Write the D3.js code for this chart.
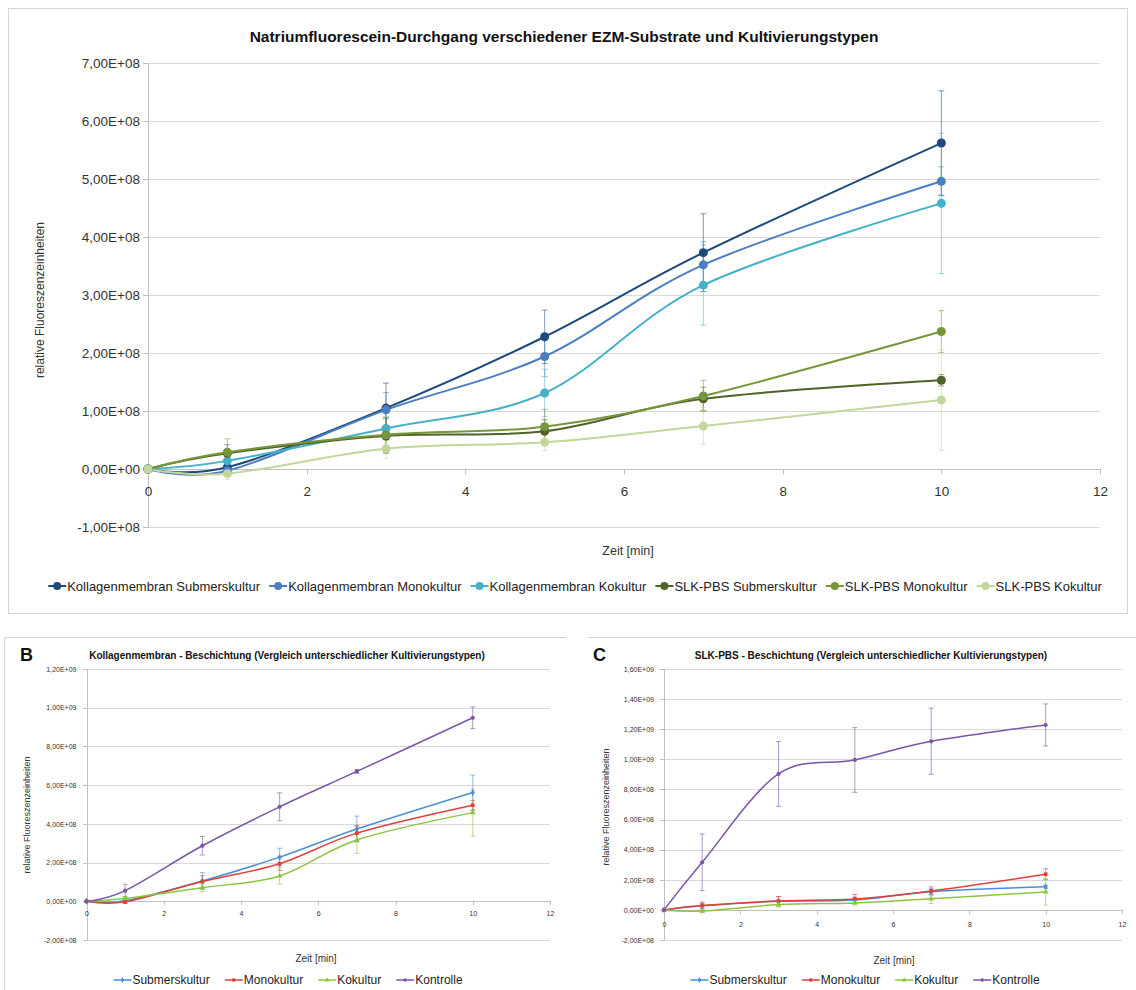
<!DOCTYPE html>
<html>
<head>
<meta charset="utf-8">
<script src="https://cdn.jsdelivr.net/npm/d3@7"></script>
<style>
  body { margin: 0; background: #fff; }
  svg { display: block; }
  text { font-family: "Liberation Sans", Arial, sans-serif; }
</style>
</head>
<body>
<svg id="chart" width="1136" height="990"></svg>
<script>
// ---- Messzeitpunkte [min] ----
const zeit = [0, 1, 3, 5, 7, 10];

// ---- Kollagenmembran: Mittelwerte und Standardabweichungen ----
const kollSubmers    = [0, 0.03e8, 1.05e8, 2.28e8, 3.73e8, 5.62e8];
const kollSubmersErr = [0, 0.10e8, 0.43e8, 0.46e8, 0.67e8, 0.90e8];
const kollMono       = [0, -0.03e8, 1.02e8, 1.94e8, 3.52e8, 4.96e8];
const kollMonoErr    = [0, 0.08e8, 0.30e8, 0.35e8, 0.40e8, 0.25e8];
const kollKoku       = [0, 0.14e8, 0.70e8, 1.31e8, 3.17e8, 4.58e8];
const kollKokuErr    = [0, 0.10e8, 0.20e8, 0.41e8, 0.69e8, 1.21e8];

// ---- SLK-PBS: Mittelwerte und Standardabweichungen ----
const slkSubmers     = [0, 0.27e8, 0.57e8, 0.65e8, 1.21e8, 1.53e8];
const slkSubmersErr  = [0, 0.15e8, 0.30e8, 0.20e8, 0.20e8, 0.10e8];
const slkMono        = [0, 0.29e8, 0.59e8, 0.73e8, 1.26e8, 2.37e8];
const slkMonoErr     = [0, 0.23e8, 0.30e8, 0.30e8, 0.27e8, 0.36e8];
const slkKoku        = [0, -0.08e8, 0.35e8, 0.46e8, 0.74e8, 1.19e8];
const slkKokuErr     = [0, 0.10e8, 0.17e8, 0.14e8, 0.32e8, 0.87e8];

// ---- Kontrollen (ohne Beschichtung) ----
const kontrolleKoll    = [0, 0.55e8, 2.87e8, 4.88e8, 6.71e8, 9.48e8];
const kontrolleKollErr = [0, 0.33e8, 0.48e8, 0.72e8, 0.10e8, 0.56e8];
const kontrolleSlk     = [0, 3.16e8, 9.03e8, 9.96e8, 11.2e8, 12.28e8];
const kontrolleSlkErr  = [0, 1.88e8, 2.15e8, 2.15e8, 2.20e8, 1.40e8];

// ---- Achsenteilungen ----
const xTicks    = [0, 2, 4, 6, 8, 10, 12];
const yTicksA   = [-1e8, 0, 1e8, 2e8, 3e8, 4e8, 5e8, 6e8, 7e8];
const yTicksB   = [-2e8, 0, 2e8, 4e8, 6e8, 8e8, 1e9, 1.2e9];
const yTicksC   = [-2e8, 0, 2e8, 4e8, 6e8, 8e8, 1e9, 1.2e9, 1.4e9, 1.6e9];

// ---- Beschriftungen ----
const titelA = "Natriumfluorescein-Durchgang verschiedener EZM-Substrate und Kultivierungstypen";
const titelB = "Kollagenmembran  - Beschichtung (Vergleich unterschiedlicher Kultivierungstypen)";
const titelC = "SLK-PBS  - Beschichtung (Vergleich unterschiedlicher Kultivierungstypen)";
const yTitel = "relative Fluoreszenzeinheiten";
const xTitel = "Zeit [min]";
const namenA = ["Kollagenmembran Submerskultur", "Kollagenmembran Monokultur", "Kollagenmembran Kokultur",
                "SLK-PBS Submerskultur", "SLK-PBS Monokultur", "SLK-PBS Kokultur"];
const namenBC = ["Submerskultur", "Monokultur", "Kokultur", "Kontrolle"];

const farbenA  = ["#1d4a7c", "#4a7fc1", "#45b0c9", "#4f6228", "#77963a", "#c3d69b"];
const farbenBC = ["#4a8fd6", "#e0403a", "#8cc63f", "#7a55a8"];

// Excel-style scientific number format: 7,00E+08
function sci(v) {
  if (v === 0) return "0,00E+00";
  const e = Math.floor(Math.log10(Math.abs(v)));
  const m = v / Math.pow(10, e);
  return m.toFixed(2).replace(".", ",") + "E+" + String(e).padStart(2, "0");
}

const svg = d3.select("#chart");

// Frames of the three chart areas
svg.append("rect").attr("x", 8.5).attr("y", 8.5).attr("width", 1119).attr("height", 605)
  .attr("fill", "none").attr("stroke", "#d4d4d4");
svg.append("path").attr("d", "M4.5,990V637.5H566").attr("fill", "none").attr("stroke", "#d4d4d4");
svg.append("path").attr("d", "M588,637.5H1136").attr("fill", "none").attr("stroke", "#d4d4d4");

function drawPanel(cfg) {
  const g = svg.append("g");
  const x = d3.scaleLinear().domain([0, 12]).range([cfg.x0, cfg.x1]);
  const y = d3.scaleLinear().domain(cfg.yDomain).range([cfg.yBottom, cfg.yTop]);

  // horizontal gridlines
  g.append("g")
    .attr("transform", `translate(${cfg.x0},0)`)
    .call(d3.axisLeft(y).tickValues(cfg.yTicks).tickSize(-(cfg.x1 - cfg.x0)).tickFormat(""))
    .call(a => a.select(".domain").remove())
    .call(a => a.selectAll("line").attr("stroke", "#d9d9d9").attr("shape-rendering", "crispEdges"));

  // y axis with labels
  g.append("g")
    .attr("transform", `translate(${cfg.x0},0)`)
    .call(d3.axisLeft(y).tickValues(cfg.yTicks).tickSize(cfg.tick).tickPadding(cfg.yPad).tickFormat(sci))
    .call(a => a.select(".domain").attr("stroke", "#bfbfbf").attr("shape-rendering", "crispEdges"))
    .call(a => a.selectAll("line").attr("stroke", "#bfbfbf").attr("shape-rendering", "crispEdges"))
    .call(a => a.selectAll("text").attr("fill", "#333").style("font-size", cfg.tickFont + "px")
      .style("font-family", '"Liberation Sans", Arial, sans-serif'));

  // x axis at zero line
  g.append("g")
    .attr("transform", `translate(0,${y(0)})`)
    .call(d3.axisBottom(x).tickValues(xTicks).tickSize(cfg.tick).tickPadding(cfg.xPad).tickFormat(d3.format("d")))
    .call(a => a.select(".domain").attr("stroke", "#bfbfbf").attr("shape-rendering", "crispEdges"))
    .call(a => a.selectAll("line").attr("stroke", "#bfbfbf").attr("shape-rendering", "crispEdges"))
    .call(a => a.selectAll("text").attr("fill", "#333").style("font-size", cfg.tickFont + "px")
      .style("font-family", '"Liberation Sans", Arial, sans-serif'));

  const line = d3.line()
    .x((d, i) => x(zeit[i]))
    .y(d => y(d))
    .curve(d3.curveCatmullRom.alpha(0));

  // error bars
  cfg.series.forEach(s => {
    const eg = g.append("g").attr("stroke", s.errColor || s.color).attr("stroke-opacity", cfg.errOpacity)
      .attr("stroke-width", 1);
    s.values.forEach((v, i) => {
      const e = s.errors[i];
      if (!e) return;
      const cx = x(zeit[i]);
      eg.append("line").attr("x1", cx).attr("x2", cx).attr("y1", y(v - e)).attr("y2", y(v + e));
      [v - e, v + e].forEach(t => eg.append("line")
        .attr("x1", cx - cfg.cap).attr("x2", cx + cfg.cap).attr("y1", y(t)).attr("y2", y(t)));
    });
  });

  // lines
  cfg.series.forEach(s => {
    g.append("path").datum(s.values).attr("d", line).attr("fill", "none")
      .attr("stroke", s.color).attr("stroke-width", cfg.lineWidth);
  });

  // markers
  cfg.series.forEach(s => {
    g.selectAll(null).data(s.values).enter().append("path")
      .attr("transform", (d, i) => `translate(${x(zeit[i])},${y(d)})`)
      .attr("d", d3.symbol().type(s.symbol).size(cfg.markerSize))
      .attr("fill", s.color);
  });

  // titles
  g.append("text").attr("x", cfg.titleX).attr("y", cfg.titleY).attr("text-anchor", "middle")
    .attr("dominant-baseline", "central").attr("font-weight", "bold").attr("font-size", cfg.titleFont)
    .attr("fill", "#111").text(cfg.title);
  g.append("text").attr("x", cfg.xTitleX).attr("y", cfg.xTitleY).attr("text-anchor", "middle")
    .attr("dominant-baseline", "central").attr("font-size", cfg.axisTitleFont).attr("fill", "#333")
    .text(xTitel);
  g.append("text").attr("transform", `translate(${cfg.yTitleX},${cfg.yTitleY}) rotate(-90)`)
    .attr("text-anchor", "middle").attr("dominant-baseline", "central")
    .attr("font-size", cfg.yTitleFont).attr("fill", "#333").text(yTitel);

  // legend, centred on legendCX
  const lg = g.append("g");
  const items = cfg.series.map(s => {
    const it = lg.append("g");
    it.append("line").attr("x1", 0).attr("x2", cfg.legLine).attr("y1", 0).attr("y2", 0)
      .attr("stroke", s.color).attr("stroke-width", cfg.lineWidth);
    it.append("path").attr("transform", `translate(${cfg.legLine / 2},0)`)
      .attr("d", d3.symbol().type(s.symbol).size(cfg.legMarker)).attr("fill", s.color);
    const t = it.append("text").attr("x", cfg.legLine + 1).attr("y", 0).attr("dominant-baseline", "central")
      .attr("font-size", cfg.legFont).attr("fill", "#222").text(s.name);
    return { it, w: cfg.legLine + 1 + t.node().getComputedTextLength() };
  });
  const total = d3.sum(items, d => d.w) + cfg.legGap * (items.length - 1);
  let cx = cfg.legendCX - total / 2;
  items.forEach(d => { d.it.attr("transform", `translate(${cx},${cfg.legendY})`); cx += d.w + cfg.legGap; });

  if (cfg.letter) {
    g.append("text").attr("x", cfg.letterX).attr("y", cfg.titleY).attr("dominant-baseline", "central")
      .attr("font-weight", "bold").attr("font-size", 18).attr("fill", "#111").text(cfg.letter);
  }
}

// --- Hauptdiagramm ---
const wertA = [kollSubmers, kollMono, kollKoku, slkSubmers, slkMono, slkKoku];
const fehlerA = [kollSubmersErr, kollMonoErr, kollKokuErr, slkSubmersErr, slkMonoErr, slkKokuErr];
drawPanel({
  x0: 148, x1: 1100, yTop: 63, yBottom: 527, yDomain: [-1e8, 7e8], yTicks: yTicksA,
  tick: 5, yPad: 3, xPad: 12, tickFont: 13.5, lineWidth: 2, markerSize: 64, cap: 3, errOpacity: 0.55,
  series: namenA.map((n, i) => ({ name: n, values: wertA[i], errors: fehlerA[i], color: farbenA[i],
    symbol: d3.symbolCircle })),
  title: titelA, titleX: 564, titleY: 36, titleFont: 15.5,
  xTitleX: 628, xTitleY: 551, axisTitleFont: 12.5,
  yTitleX: 40, yTitleY: 300, yTitleFont: 12,
  legendCX: 575, legendY: 586, legLine: 18, legMarker: 50, legFont: 13, legGap: 9
});

// --- Teildiagramm B: Kollagenmembran ---
const wertB = [kollSubmers, kollMono, kollKoku, kontrolleKoll];
const fehlerB = [kollSubmersErr, kollMonoErr, kollKokuErr, kontrolleKollErr];
const symbole = [d3.symbolDiamond, d3.symbolSquare, d3.symbolTriangle, d3.symbolCircle];
drawPanel({
  x0: 86.5, x1: 550, yTop: 669, yBottom: 940, yDomain: [-2e8, 1.2e9], yTicks: yTicksB,
  tick: 4, yPad: 6, xPad: 6, tickFont: 7, lineWidth: 1.5, markerSize: 14, cap: 2.5, errOpacity: 0.6,
  series: namenBC.map((n, i) => ({ name: n, values: wertB[i], errors: fehlerB[i], color: farbenBC[i],
    symbol: symbole[i] })),
  title: titelB, titleX: 287, titleY: 655, titleFont: 10,
  xTitleX: 316, xTitleY: 958, axisTitleFont: 10,
  yTitleX: 27, yTitleY: 815, yTitleFont: 9,
  legendCX: 288, legendY: 980, legLine: 18, legMarker: 10, legFont: 12, legGap: 15,
  letter: "B", letterX: 20
});

// --- Teildiagramm C: SLK-PBS ---
const wertC = [slkSubmers, slkMono, slkKoku, kontrolleSlk];
const fehlerC = [slkSubmersErr, slkMonoErr, slkKokuErr, kontrolleSlkErr];
drawPanel({
  x0: 664, x1: 1122, yTop: 669, yBottom: 940, yDomain: [-2e8, 1.6e9], yTicks: yTicksC,
  tick: 4, yPad: 6, xPad: 8, tickFont: 7, lineWidth: 1.5, markerSize: 14, cap: 2.5, errOpacity: 0.6,
  series: namenBC.map((n, i) => ({ name: n, values: wertC[i], errors: fehlerC[i], color: farbenBC[i],
    symbol: symbole[i] })),
  title: titelC, titleX: 871, titleY: 655, titleFont: 10,
  xTitleX: 894, xTitleY: 960, axisTitleFont: 10,
  yTitleX: 606, yTitleY: 807, yTitleFont: 9,
  legendCX: 865, legendY: 980, legLine: 18, legMarker: 10, legFont: 12, legGap: 15,
  letter: "C", letterX: 593
});
</script>
</body>
</html>
